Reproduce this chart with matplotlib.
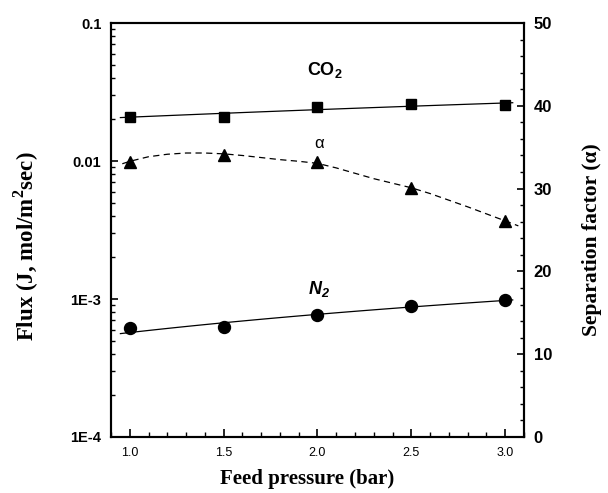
import numpy as np
import matplotlib
matplotlib.use('Agg')
import matplotlib.pyplot as plt
from matplotlib.ticker import MultipleLocator, LogLocator, NullFormatter, FixedLocator, FixedFormatter

sans = 'Liberation Sans'
serif = 'Liberation Serif'
plt.rcParams['mathtext.fontset'] = 'custom'
plt.rcParams['mathtext.rm'] = sans
plt.rcParams['mathtext.bf'] = sans + ':bold'

# feed pressure (bar) and measured fluxes (mol/m2 sec)
pressure = [1.0, 1.5, 2.0, 2.5, 3.0]
co2_flux = [0.0209, 0.0209, 0.0247, 0.0260, 0.0253]
n2_flux = [0.000613, 0.000623, 0.000761, 0.000884, 0.000989]

# separation factor CO2/N2
alpha = [33.2, 34.1, 33.2, 30.1, 26.1]

# smoothed trend drawn through the separation factor
alpha_trend_p = [0.96, 1.0, 1.1, 1.2, 1.3, 1.4, 1.5, 1.6, 1.7, 1.8, 1.9, 2.0,
                 2.1, 2.2, 2.3, 2.4, 2.5, 2.6, 2.7, 2.8, 2.9, 3.0, 3.07]
alpha_trend = [33.0, 33.3, 33.85, 34.15, 34.3, 34.3, 34.2, 34.0, 33.75, 33.5, 33.3, 33.05,
               32.5, 31.85, 31.2, 30.65, 30.1, 29.4, 28.6, 27.8, 26.95, 26.1, 25.5]

flux_ticks = [1e-4, 1e-3, 1e-2, 1e-1]
flux_ticklabels = ['1E-4', '1E-3', '0.01', '0.1']

fig, ax = plt.subplots(figsize=(6.08, 4.93), dpi=100)
fig.subplots_adjust(left=0.1826, right=0.8618, top=0.9533, bottom=0.1136)
ax2 = ax.twinx()

# linear fits for the two fluxes
fit_p = np.linspace(0.95, 3.04, 60)
co2_fit = np.polyval(np.polyfit(pressure, co2_flux, 1), fit_p)
n2_fit = np.polyval(np.polyfit(pressure, n2_flux, 1), fit_p)

ax.plot(fit_p, co2_fit, color='black', lw=0.9)
ax.plot(fit_p, n2_fit, color='black', lw=0.9)
ax.plot(pressure, co2_flux, ls='none', marker='s', ms=6.8, color='black')
ax.plot(pressure, n2_flux, ls='none', marker='o', ms=8.6, color='black')

ax2.plot(alpha_trend_p, alpha_trend, color='black', lw=0.9, ls=(0, (5, 3.5)))
ax2.plot(pressure, alpha, ls='none', marker='^', ms=8.6, color='black')

ax.set_yscale('log')
ax.set_xlim(0.9, 3.1)
ax.set_ylim(1e-4, 0.1)
ax2.set_ylim(0, 50)

ax.yaxis.set_major_locator(FixedLocator(flux_ticks))
ax.yaxis.set_major_formatter(FixedFormatter(flux_ticklabels))
ax.yaxis.set_minor_locator(LogLocator(base=10, subs=np.arange(2, 10), numticks=20))
ax.yaxis.set_minor_formatter(NullFormatter())

ax.xaxis.set_minor_locator(MultipleLocator(0.1))
ax.set_xticks(pressure)
ax.set_xticklabels(['%.1f' % p for p in pressure], fontfamily=sans, fontsize=9)

ax2.yaxis.set_major_locator(MultipleLocator(10))
ax2.yaxis.set_minor_locator(MultipleLocator(2))

ax.tick_params(axis='both', which='both', direction='in', top=False, right=False)
ax.tick_params(axis='y', which='major', length=5, width=1.2, pad=7)
ax.tick_params(axis='y', which='minor', length=3, width=1.0)
ax.tick_params(axis='x', which='major', length=6, width=1.2, pad=7)
ax.tick_params(axis='x', which='minor', length=3.5, width=1.0)
ax2.tick_params(axis='y', which='both', direction='in', left=False, right=True)
ax2.tick_params(axis='y', which='major', length=5, width=1.2, pad=7)
ax2.tick_params(axis='y', which='minor', length=3, width=1.0)

for lab in ax.get_yticklabels():
    lab.set_fontfamily(sans)
    lab.set_fontweight('bold')
    lab.set_fontsize(10.5)
for lab in ax2.get_yticklabels():
    lab.set_fontfamily(sans)
    lab.set_fontweight('bold')
    lab.set_fontsize(12)

for a in (ax, ax2):
    for s in a.spines.values():
        s.set_linewidth(1.5)

ax.set_xlabel('Feed pressure (bar)', fontfamily=serif, fontweight='bold', fontsize=15)
ax.set_ylabel(r'Flux (J, mol/m$^\mathregular{2}$sec)', fontfamily=serif, fontweight='bold',
              fontsize=16.5)
ax2.set_ylabel('Separation factor (α)', fontfamily=serif, fontweight='bold', fontsize=15.5)
ax.xaxis.set_label_coords(0.476, -0.077)
ax.yaxis.set_label_coords(-0.17, 0.462)
ax2.yaxis.set_label_coords(1.14, 0.476)

# curve labels
ax.text(2.04, 0.0419, 'CO$_\\mathregular{2}$', fontfamily=sans, fontweight='bold', fontsize=13,
        ha='center', va='baseline')
ax.text(2.01, 0.00109, 'N$_\\mathregular{2}$', fontfamily=sans, fontweight='bold', fontstyle='italic',
        fontsize=13, ha='center', va='baseline')
ax2.text(2.01, 34.9, 'α', fontfamily=sans, fontsize=12, ha='center', va='baseline')

fig.savefig('out.png', dpi=100)
